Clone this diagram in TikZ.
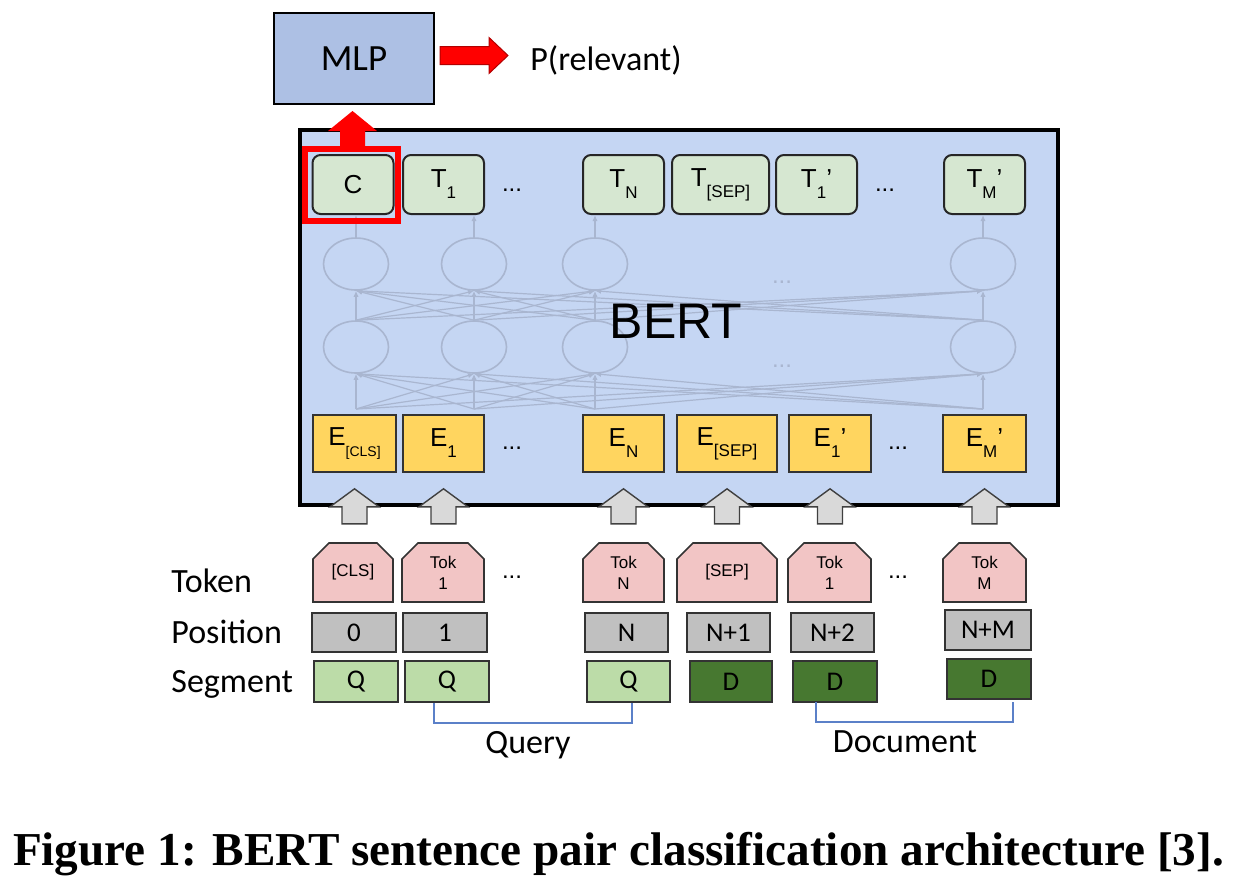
\documentclass[tikz,border=0pt]{standalone}
\usepackage{fontspec}
\setmainfont{Liberation Sans}
\newfontfamily\calfont{Carlito}
\newfontfamily\capfont{Liberation Serif}
\usetikzlibrary{arrows.meta,calc,shapes.misc,shapes.geometric}
\definecolor{mlpblue}{HTML}{ADC0E4}
\definecolor{bertblue}{HTML}{C5D6F3}
\definecolor{outgreen}{HTML}{D6E7D1}
\definecolor{embyellow}{HTML}{FFD55F}
\definecolor{tokpink}{HTML}{F2C5C5}
\definecolor{posgray}{HTML}{C0C0C0}
\definecolor{qgreen}{HTML}{BCDCA8}
\definecolor{dgreen}{HTML}{477830}
\definecolor{netline}{HTML}{A9B6D0}
\definecolor{bracketblue}{HTML}{5B80C8}
\definecolor{arrowgray}{HTML}{D9D9D9}

% lowered index in the box labels
\newcommand{\lo}[2][8.5]{\raisebox{-5.5pt}{\fontsize{#1}{#1}\selectfont #2}}
% grey input arrow under an embedding box
\newcommand{\inarrow}[1]{%
  \filldraw[fill=arrowgray,draw=black!75,line width=0.7pt,line join=miter]
    ($(#1.south)+(0,16)$) -- ++(24.5,18) -- ++(-12,0) -- ++(0,17)
    -- ++(-25,0) -- ++(0,-17) -- ++(-12,0) -- cycle;}

\begin{document}
\begin{tikzpicture}[x=0.5pt,y=-0.5pt,>={Latex[length=3pt,width=2.6pt]},
  mlpbox/.style={rectangle,draw=black,line width=1pt,fill=mlpblue,
    minimum width=80pt,minimum height=45.5pt,inner sep=0pt,
    font=\calfont\fontsize{18.5}{18.5}\selectfont},
  bertbox/.style={rectangle,draw=black,line width=2pt,fill=bertblue,
    minimum width=379pt,minimum height=187.5pt,inner sep=0pt},
  outbox/.style={rectangle,rounded corners=4pt,draw=black!85,line width=1pt,
    fill=outgreen,minimum width=#1,minimum height=29.5pt,inner sep=0pt,
    font=\fontsize{13}{13}\selectfont},
  outbox/.default=40.5pt,
  embbox/.style={rectangle,draw=black!80,line width=0.8pt,fill=embyellow,
    minimum width=#1,minimum height=28.5pt,inner sep=0pt,
    font=\fontsize{13}{13}\selectfont},
  embbox/.default=41pt,
  tokbox/.style={chamfered rectangle,chamfered rectangle corners={north west,north east},
    chamfered rectangle sep=4pt,draw=black!80,line width=0.8pt,fill=tokpink,
    minimum width=#1,minimum height=29.5pt,inner sep=0pt,align=center,
    font=\fontsize{8.5}{10.5}\selectfont},
  tokbox/.default=41pt,
  posbox/.style={rectangle,draw=black!80,line width=0.8pt,fill=posgray,
    minimum width=#1,minimum height=19.5pt,inner sep=0pt,
    font=\calfont\fontsize{13.5}{13.5}\selectfont},
  posbox/.default=42pt,
  segq/.style={posbox=#1,fill=qgreen,minimum height=20.5pt},
  segq/.default=42pt,
  segd/.style={posbox=#1,fill=dgreen,minimum height=20.5pt},
  segd/.default=42pt,
  neuron/.style={ellipse,draw=netline,line width=0.8pt,minimum width=32.5pt,
    minimum height=26pt,inner sep=0pt},
  net/.style={draw=netline,line width=0.6pt},
  dots/.style={font=\fontsize{12}{12}\selectfont},
  rowlabel/.style={anchor=base west,inner sep=0pt,font=\calfont\fontsize{17}{17}\selectfont},
  bracket/.style={draw=bracketblue,line width=0.6pt}]
  \useasboundingbox (0,0) rectangle (1234,890);

  % MLP head
  \node[mlpbox] (mlp) at (354,58.5) {MLP};
  \filldraw[fill=red,draw=red!70!black,line width=0.5pt]
    ($(mlp.east)+(5,-12)$) -- ++(49,0) -- ++(0,-9) -- ++(19,18)
    -- ++(-19,18) -- ++(0,-9) -- ++(-49,0) -- cycle;
  \node[rowlabel] (prel) at (530,70) {P(relevant)};

  % BERT block
  \node[bertbox] (bert) at (679,317.5) {};

  % faint transformer layers
  \foreach \i/\x in {1/356,2/474,3/595,4/983} {
    \node[neuron] (u\i) at (\x,264) {};
    \node[neuron] (l\i) at (\x,347) {};
    \coordinate (b\i) at (\x,409);
  }
  \foreach \i in {1,...,4} {
    \foreach \j in {1,...,4} {
      \draw[net,->] (l\i.north) -- (u\j.south);
      \draw[net,->] (b\i) -- (l\j.south);
    }
  }
  \node[dots,text=netline] (ndots1) at (782,282) {...};
  \node[dots,text=netline] (ndots2) at (782,366) {...};
  \node[anchor=base,font=\fontsize{25}{25}\selectfont] (berttext) at (676,338) {BERT};

  % output vectors
  \node[outbox] (c) at (353,184.5) {C};
  \node[outbox] (t1) at (443.5,184.5) {T\lo{1}};
  \node[dots] (tdots1) at (512,190) {...};
  \node[outbox] (tn) at (623.5,184.5) {T\lo{N}};
  \node[outbox=48.5pt] (tsep) at (720.5,184.5) {T\lo{[SEP]}};
  \node[outbox] (t1p) at (816.5,184.5) {T\lo{1}’};
  \node[dots] (tdots2) at (885,190) {...};
  \node[outbox] (tmp) at (984.5,184.5) {T\lo{M}’};
  \foreach \i in {1,...,4}
    \draw[net,->] (u\i.north) -- (u\i.north |- c.south);

  % highlight on C and arrow to the MLP
  \node[rectangle,draw=red,line width=2.8pt,minimum width=46.5pt,
    minimum height=36pt,inner sep=0pt] (cframe) at (351.5,185) {};
  \fill[red] ($(mlp.south)+(-1.5,6)$) -- ++(24.5,20) -- ++(-12,0) -- ++(0,19)
    -- ++(-25,0) -- ++(0,-19) -- ++(-12,0) -- cycle;

  % input embeddings
  \node[embbox=41.5pt] (ecls) at (354.5,443.5) {E\lo[7]{[CLS]}};
  \node[embbox=40.5pt] (e1) at (443.5,443.5) {E\lo{1}};
  \node[dots] (edots1) at (512,448) {...};
  \node[embbox=40.5pt] (en) at (623.5,443.5) {E\lo{N}};
  \node[embbox=50pt] (esep) at (727,443.5) {E\lo{[SEP]}};
  \node[embbox] (e1p) at (830,443.5) {E\lo{1}’};
  \node[dots] (edots2) at (898,448) {...};
  \node[embbox=41.5pt] (emp) at (984.5,443.5) {E\lo{M}’};
  \foreach \e in {ecls,e1,en,esep,e1p,emp}
    \inarrow{\e};

  % tokens
  \node[tokbox=40pt] (tokcls) at (353,572.5) {[CLS]};
  \node[tokbox] (tok1) at (443,572.5) {Tok\\1};
  \node[dots] (kdots1) at (512,577) {...};
  \node[tokbox=40.5pt] (tokn) at (623.5,572.5) {Tok\\N};
  \node[tokbox=50pt] (toksep) at (727,572.5) {[SEP]};
  \node[tokbox=41.5pt] (tokd1) at (829.5,572.5) {Tok\\1};
  \node[dots] (kdots2) at (898,577) {...};
  \node[tokbox=41.5pt] (tokm) at (984.5,572.5) {Tok\\M};

  % positions
  \node[posbox] (pos0) at (354,632.5) {0};
  \node[posbox] (pos1) at (445,632.5) {1};
  \node[posbox=41.5pt] (posn) at (626.5,632.5) {N};
  \node[posbox=41.5pt] (posn1) at (728.5,632.5) {N+1};
  \node[posbox=41.5pt] (posn2) at (832.5,632.5) {N+2};
  \node[posbox=43pt,minimum height=20pt] (posnm) at (988,630) {N+M};

  % segments
  \node[segq] (segq0) at (356,681.5) {Q};
  \node[segq] (segq1) at (447,681.5) {Q};
  \node[segq=41.5pt] (segqn) at (628.5,681.5) {Q};
  \node[segd=41pt] (segd1) at (731,681.5) {D};
  \node[segd] (segd2) at (835,681.5) {D};
  \node[segd,minimum height=20pt] (segdm) at (989,679) {D};

  % row labels
  \node[rowlabel] (toklabel) at (171,592) {Token};
  \node[rowlabel] (poslabel) at (171,643) {Position};
  \node[rowlabel] (seglabel) at (171,692) {Segment};

  % query / document brackets
  \coordinate (qa) at (434,703);
  \coordinate (qb) at (632,703);
  \coordinate (da) at (816,702);
  \coordinate (db) at (1013,702);
  \draw[bracket] (qa) -- ++(0,20) -| (qb);
  \draw[bracket] (da) -- ++(0,20) -| (db);
  \node[rowlabel,anchor=base] (query) at (528,753) {Query};
  \node[rowlabel,anchor=base] (document) at (905,752) {Document};

  % caption
  \node[anchor=base] (caption) at (618.5,865)
    {\capfont\bfseries\fontsize{23.6}{28}\selectfont Figure 1: BERT sentence pair classification architecture [3].};
\end{tikzpicture}
\end{document}
